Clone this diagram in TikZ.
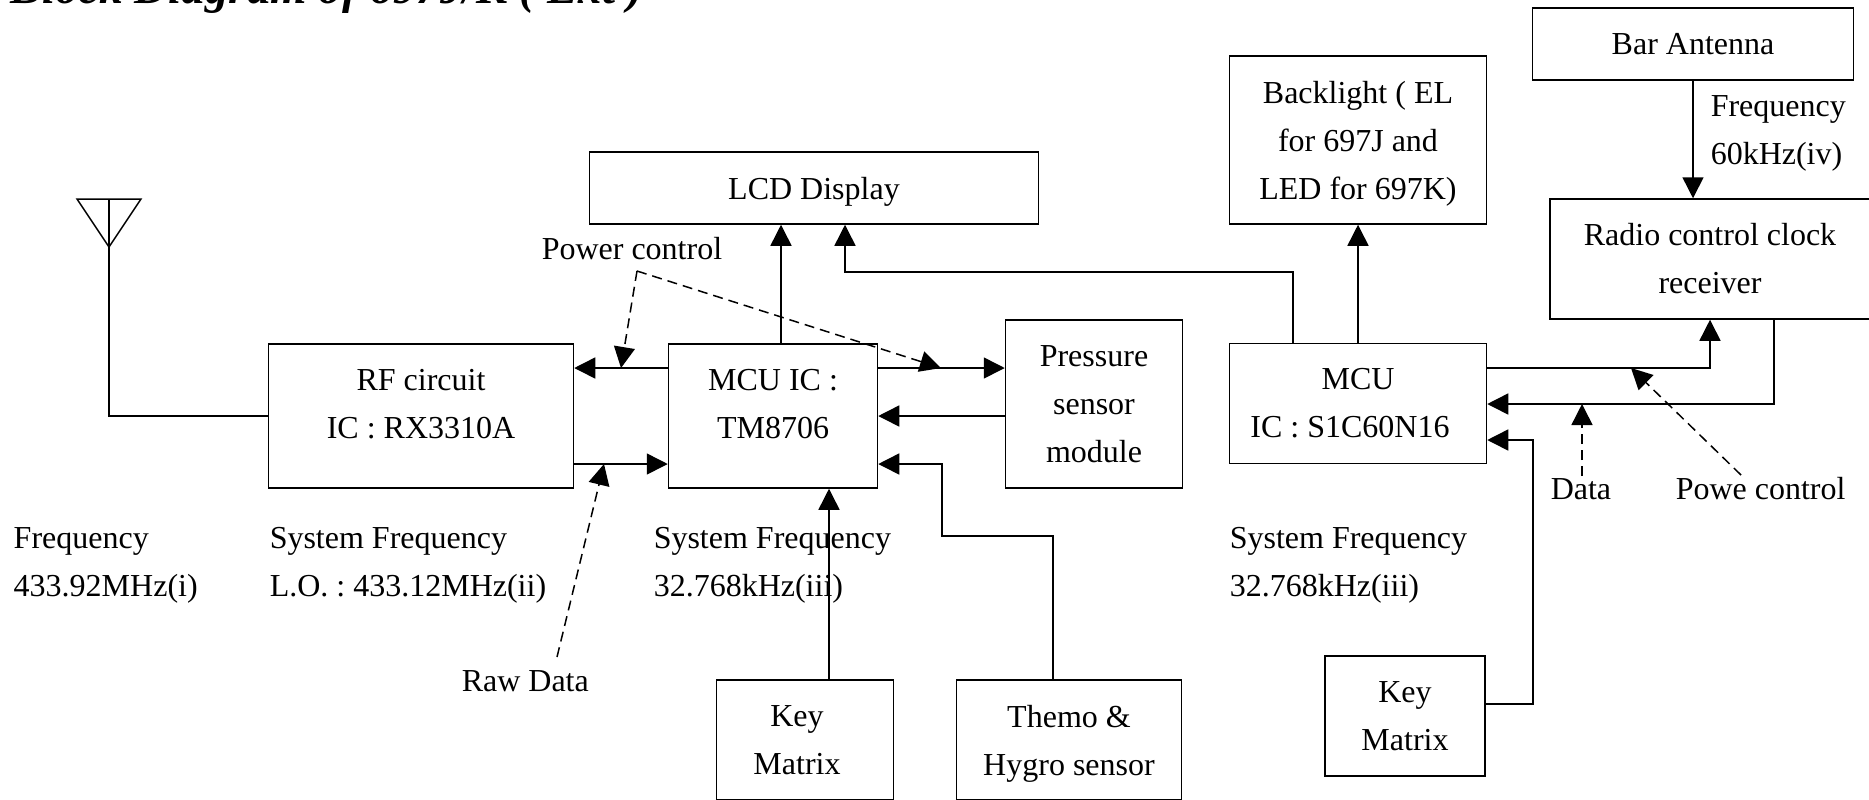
\documentclass[tikz,border=0pt]{standalone}
\usepackage{fontspec}
\setmainfont{Liberation Serif}
\usepackage{tikz}
\usetikzlibrary{arrows.meta}
\usetikzlibrary{positioning}
\newcommand{\nodepth}[1]{\raisebox{0pt}[\height][0pt]{#1}}
\newcommand{\liftup}{\\[-12pt]\mbox{}}
\tikzset{block/.style={rectangle, draw, inner sep=0pt, text centered, align=center, font=\fontsize{16}{24}\selectfont\frenchspacing},
  label/.style={inner sep=0pt, align=left, font=\fontsize{16}{24}\selectfont\frenchspacing},
  line/.style={draw, -{Triangle[length=10.5pt,width=10.5pt]}},
  edge/.style={draw, -},
  dashline/.style={draw, dash pattern=on 5pt off 3pt, -{Triangle[length=10.5pt,width=10.5pt]}}}
\begin{document}
\begin{tikzpicture}[x=0.5pt, y=-0.5pt, line width=0.75pt]
  \useasboundingbox (0,0) rectangle (1869,799);
  % Place nodes
  \node [block, minimum width=305pt*0.5, minimum height=144pt*0.5] (rf) at (421,416) {RF circuit\\IC : RX3310A\liftup};
  \node [block, minimum width=209pt*0.5, minimum height=144pt*0.5] (mcuic) at (773,416) {MCU IC :\\TM8706\liftup};
  \node [block, minimum width=449pt*0.5, minimum height=72pt*0.5] (lcd) at (814,188) {\nodepth{LCD Display}};
  \node [block, minimum width=177pt*0.5, minimum height=168pt*0.5] (pressure) at (1094,404) {Pressure\\sensor\\module};
  \node [block, minimum width=177pt*0.5, minimum height=120pt*0.5] (key) at (805,740) {Key\hspace*{8pt}\\Matrix\hspace*{8pt}};
  \node [block, minimum width=225pt*0.5, minimum height=120pt*0.5] (sensor) at (1069,740) {Themo \&\\\nodepth{Hygro sensor}};
  \node [block, minimum width=257pt*0.5, minimum height=168pt*0.5] (backlight) at (1358,140) {Backlight ( EL\\for 697J and\\\nodepth{LED for 697K)}};
  \node [block, minimum width=257pt*0.5, minimum height=120pt*0.5] (mcu) at (1358,403.5) {MCU\\IC : S1C60N16\hspace*{8pt}};
  \node [block, minimum width=321pt*0.5, minimum height=72pt*0.5] (bar) at (1693,44) {Bar Antenna};
  \node [block, minimum width=320pt*0.5, minimum height=120pt*0.5] (radio) at (1710,259) {Radio control clock\\receiver};
  \node [block, minimum width=160pt*0.5, minimum height=120pt*0.5] (keyb) at (1405,716) {Key\\Matrix};
  % Texts
  \node [label, anchor=north west] (title) at (10,-30) {\fontsize{23.5}{24}\selectfont\bfseries\itshape Block Diagram of 697J/K ( Ext )};
  \node [label, anchor=west] (pwr) at (541,249) {Power control};
  \node [label, anchor=west] (raw) at (461,681) {Raw Data};
  \node [label, anchor=west] (data) at (1550,489) {Data};
  \node [label, anchor=west] (powe) at (1675,489) {Powe control};
  \node [label, anchor=west] (freqa) at (13,565) {Frequency\\433.92MHz(i)};
  \node [label, anchor=west] (freqb) at (269,565) {System Frequency\\L.O. : 433.12MHz(ii)};
  \node [label, anchor=west] (freqc) at (653,565) {System Frequency\\32.768kHz(iii)};
  \node [label, anchor=west] (freqd) at (1229,565) {System Frequency\\32.768kHz(iii)};
  \node [label, anchor=west] (freqe) at (1710,133) {Frequency\\60kHz(iv)};
  % Antenna
  \coordinate (antl) at (77,199);
  \coordinate (antr) at (141,199);
  \coordinate (anttip) at (109,247);
  \draw (antl) -- (antr) -- (anttip) -- cycle;
  \draw (109,199) -- (anttip);
  \path [edge] (anttip) |- (rf.west);
  % Draw edges
  \path [line] (mcuic.north -| 781,0) -- (lcd.south -| 781,0);
  \path [line] (mcu.north -| 1293,0) |- (845,272) -- (lcd.south -| 845,0);
  \path [line] (mcu.north) -- (backlight.south);
  \path [line] (bar.south) -- (radio.north -| bar.south);
  \path [line] (mcuic.west |- 0,368) -- (rf.east |- 0,368);
  \path [line] (rf.east |- 0,464) -- (mcuic.west |- 0,464);
  \path [line] (mcuic.east |- 0,368) -- (pressure.west |- 0,368);
  \path [line] (pressure.west |- 0,416) -- (mcuic.east |- 0,416);
  \path [line] (sensor.north -| 1053,0) |- (942,536) |- (mcuic.east |- 0,464);
  \path [line] (key.north -| 829,0) -- (mcuic.south -| 829,0);
  \path [line] (mcu.east |- 0,368) -| (radio.south);
  \path [line] (radio.south -| 1774,0) |- (mcu.east |- 0,404);
  \path [line] (keyb.east |- 0,704) -| (1533,440) -- (mcu.east |- 0,440);
  % Dashed
  \coordinate (pwrc) at (637,271);
  \path [dashline] (pwrc) -- (621,368);
  \path [dashline] (pwrc) -- (941,368);
  \path [dashline] (557,657) -- (604,464);
  \path [dashline] (1582,476) -- (1582,404);
  \path [dashline] (1741,475) -- (1631,368);
\end{tikzpicture}
\end{document}
